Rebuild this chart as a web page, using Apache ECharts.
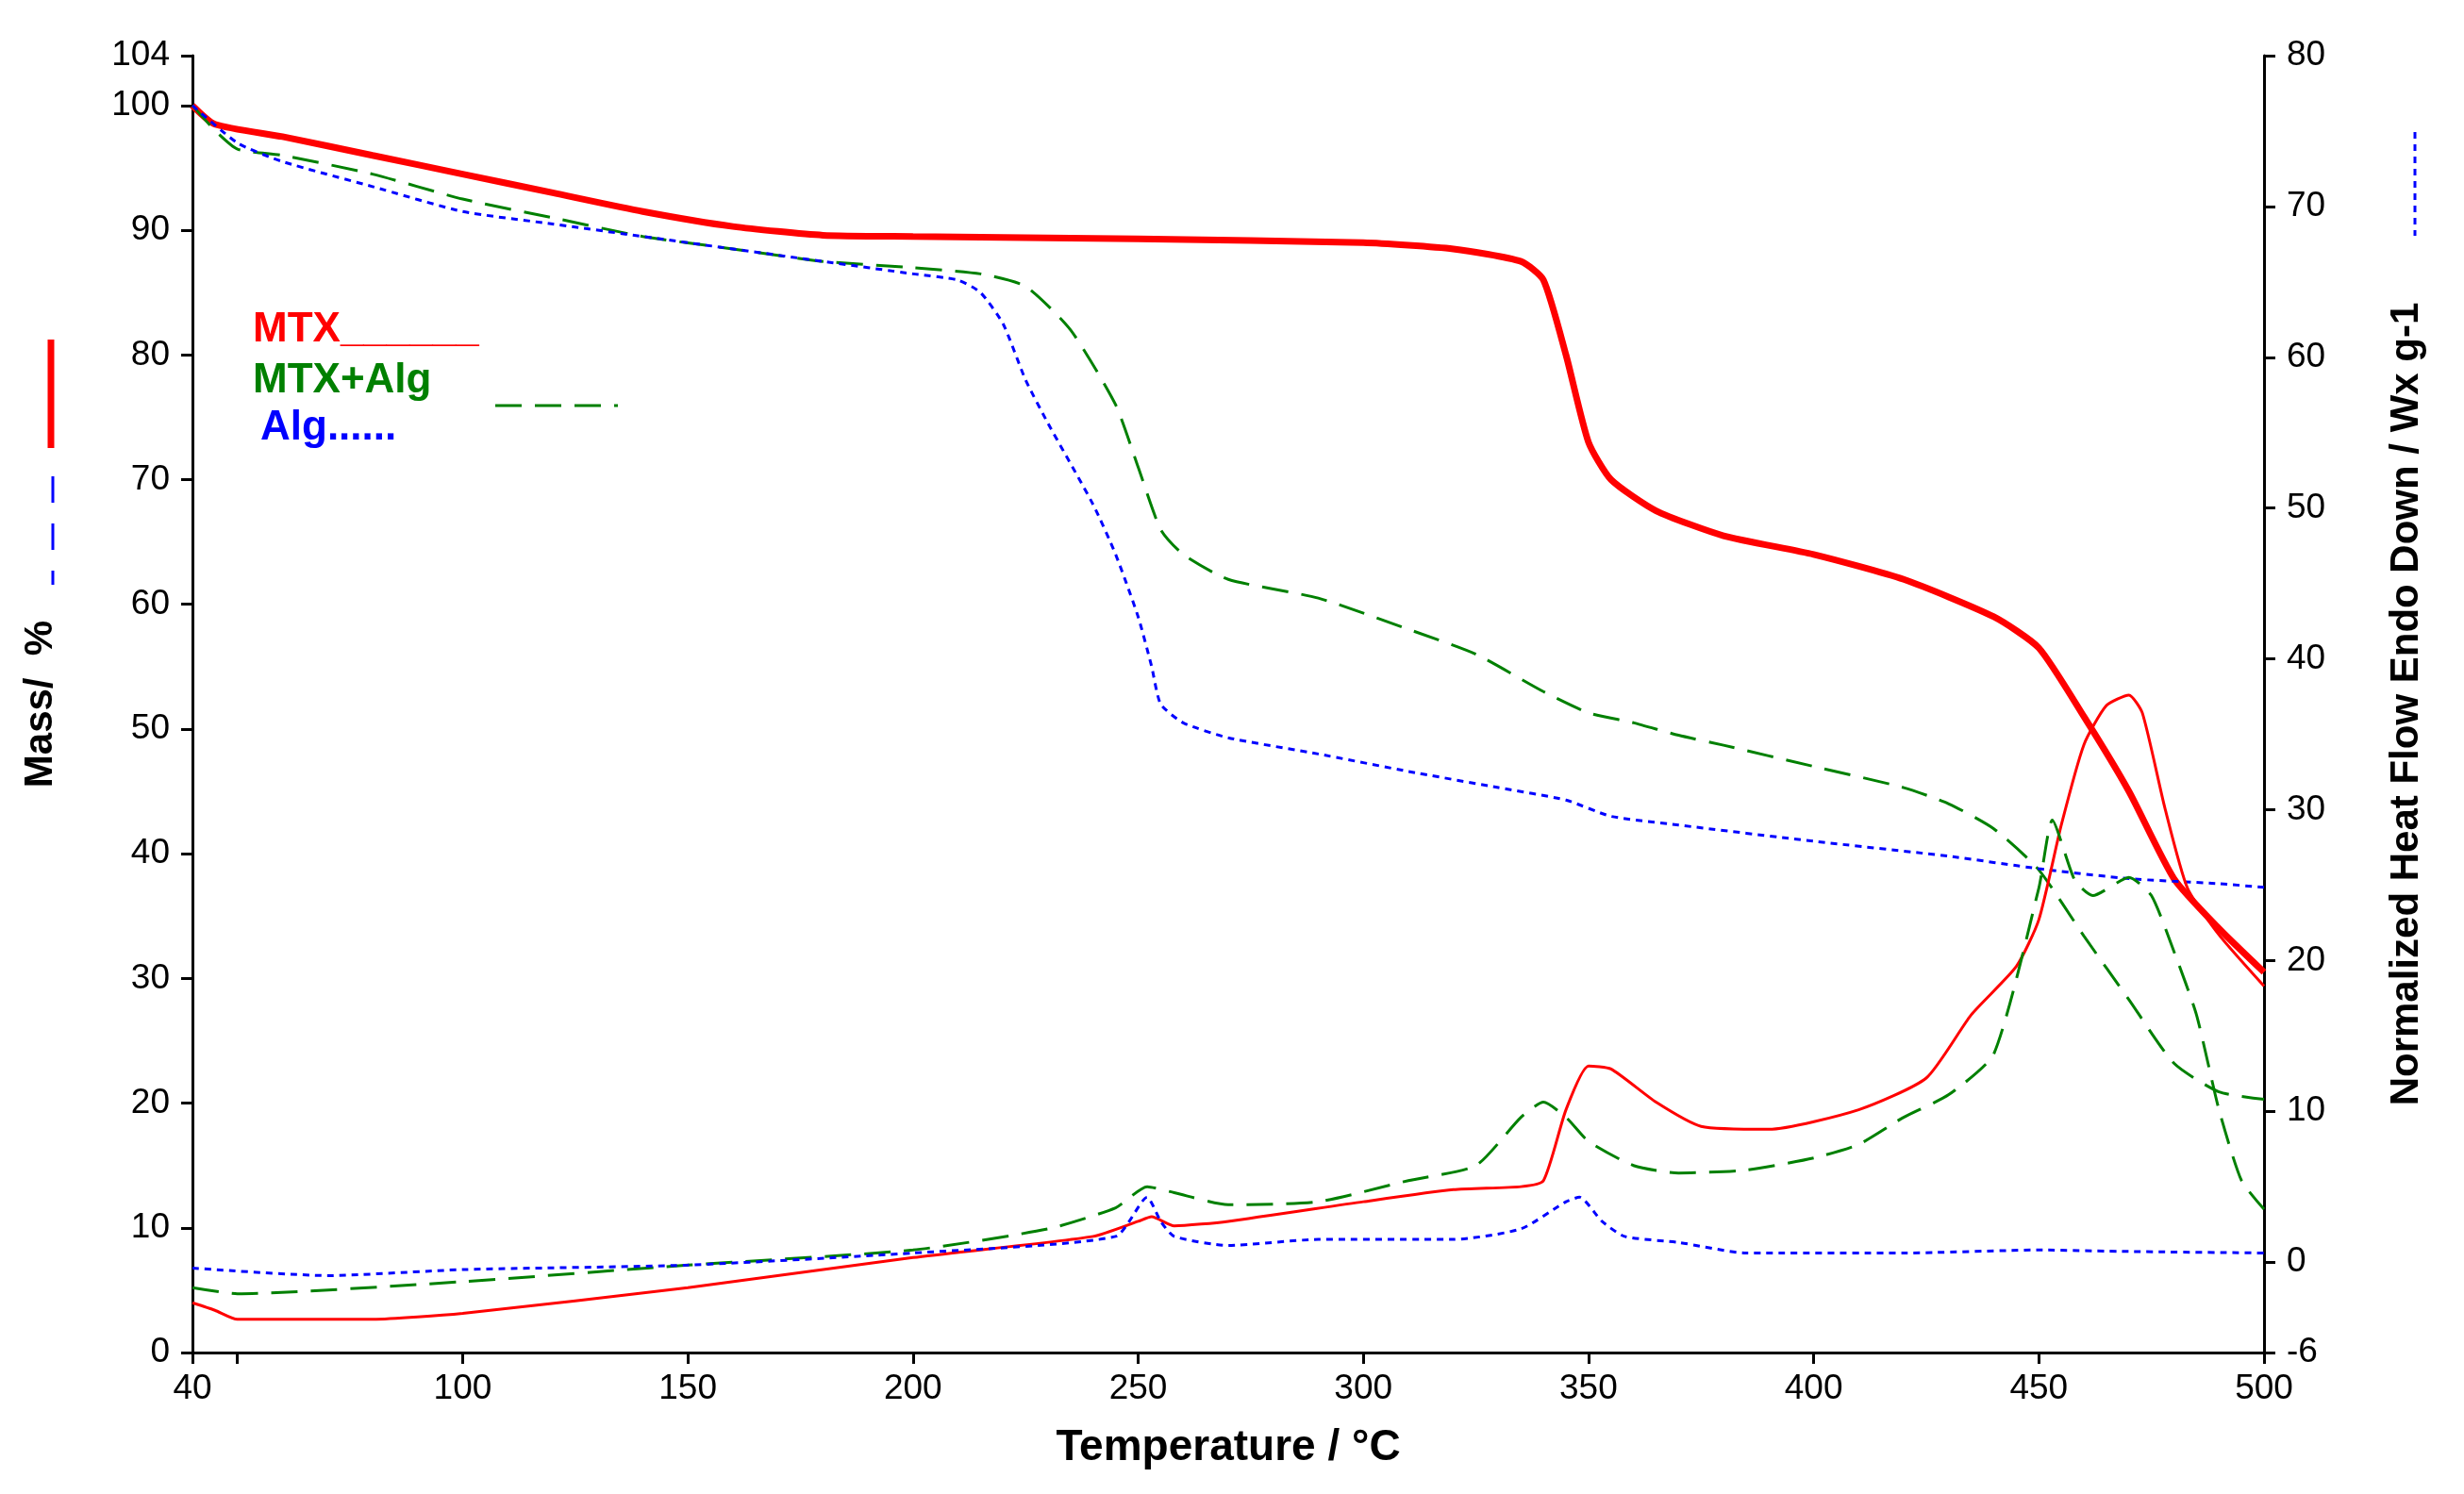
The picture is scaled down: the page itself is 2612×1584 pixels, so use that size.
<!DOCTYPE html><html><head><meta charset="utf-8"><script src="https://cdn.jsdelivr.net/npm/echarts@6/dist/echarts.min.js"></script>
<style>html,body{margin:0;padding:0;background:#fff}#c{width:2612px;height:1584px}</style></head><body><div id="c"></div><script>
const massMTX=[[40,100],[45,98.5],[60,97.5],[80,96],[100,94.5],[120,93],[140,91.5],[160,90.3],[180,89.6],[200,89.5],[250,89.3],[300,89],[320,88.5],[335,87.5],[340,86],[345,80],[350,73],[355,70],[365,67.5],[380,65.5],[400,64],[420,62],[440,59],[450,56.5],[460,51],[470,45],[480,38],[490,34],[500,30.5]];
const massMix=[[40,100],[45,98],[50,96.5],[60,96],[80,94.5],[100,92.5],[120,91],[140,89.5],[160,88.5],[180,87.5],[200,87],[215,86.5],[225,85.5],[235,82],[245,76],[250,71],[255,66],[260,64],[270,62],[290,60.5],[310,58],[325,56],[340,53],[350,51.3],[360,50.5],[370,49.5],[380,48.7],[400,47],[420,45.3],[430,44],[440,42],[450,38.7],[460,33.4],[470,28.3],[480,23.2],[490,20.9],[500,20.3]];
const massAlg=[[40,100],[50,97],[60,95.5],[80,93.5],[100,91.5],[120,90.5],[150,89],[180,87.5],[200,86.5],[210,86],[215,85],[220,82.5],[225,78],[230,74.5],[240,68],[245,64],[250,59],[253,55],[255,52],[260,50.5],[270,49.3],[290,48],[310,46.6],[330,45.3],[345,44.3],[355,43],[370,42.3],[400,41],[430,39.8],[450,38.8],[470,38],[490,37.6],[500,37.3]];
const hfMTX=[[40,-2.7],[45,-3.2],[50,-3.8],[80,-3.8],[100,-3.4],[150,-1.7],[200,0.3],[240,1.7],[250,2.7],[253,3.0],[258,2.4],[270,2.7],[300,4.0],[320,4.8],[335,5.0],[340,5.4],[345,10.1],[350,13.0],[355,12.8],[365,10.6],[375,9.0],[390,8.8],[410,10.1],[425,12.2],[435,16.4],[445,19.6],[450,22.7],[455,29.0],[460,34.3],[465,36.9],[470,37.6],[473,36.4],[478,30.1],[483,24.8],[490,21.7],[500,18.3]];
const hfMix=[[40,-1.7],[50,-2.1],[100,-1.3],[150,-0.2],[200,0.8],[230,2.2],[245,3.6],[252,5.0],[258,4.6],[270,3.8],[290,4.0],[310,5.4],[325,6.4],[335,9.6],[340,10.6],[345,9.6],[350,8.0],[360,6.4],[370,5.9],[385,6.1],[400,6.9],[410,7.8],[420,9.6],[430,11.1],[440,13.8],[450,24.8],[453,29.3],[458,25.3],[462,24.3],[470,25.5],[475,24.3],[480,20.6],[485,16.4],[490,10.1],[495,5.4],[500,3.5]];
const hfAlg=[[40,-0.4],[70,-0.9],[100,-0.5],[150,-0.2],[200,0.6],[245,1.7],[252,4.3],[255,2.7],[258,1.7],[270,1.1],[290,1.5],[320,1.5],[335,2.2],[345,4.0],[348,4.3],[353,2.7],[358,1.7],[370,1.3],[385,0.6],[420,0.6],[450,0.8],[470,0.7],[500,0.6]];
const xTicks=[40,50,100,150,200,250,300,350,400,450,500];
const xLabels=[40,100,150,200,250,300,350,400,450,500];
const yLeftTicks=[0,10,20,30,40,50,60,70,80,90,100,104];
const yRightTicks=[-6,0,10,20,30,40,50,60,70,80];
const F='Liberation Sans';
const ax={axisLine:{show:true,lineStyle:{color:'#000',width:3}},axisTick:{show:true,length:12,lineStyle:{color:'#000',width:3}},splitLine:{show:false},axisLabel:{color:'#000',fontSize:37,fontFamily:F,margin:24},nameTextStyle:{color:'#000',fontSize:42,fontWeight:'bold',fontFamily:F}};
function s(name,d,color,w,type,yi){return {name,type:'line',data:d,yAxisIndex:yi,showSymbol:false,smooth:0.2,lineStyle:{color,width:w,type},itemStyle:{color}};}
const chart=echarts.init(document.getElementById('c'));
chart.setOption({animation:false,
grid:{left:204,right:212,top:59,bottom:150},
xAxis:Object.assign({},ax,{type:'value',min:40,max:500,name:'Temperature / °C',nameLocation:'middle',nameGap:78,nameTextStyle:Object.assign({},ax.nameTextStyle,{fontSize:46}),axisTick:Object.assign({},ax.axisTick,{customValues:xTicks}),axisLabel:Object.assign({},ax.axisLabel,{customValues:xLabels,margin:20})}),
yAxis:[Object.assign({},ax,{type:'value',min:0,max:104,name:'Mass/  %',nameLocation:'middle',nameGap:140,axisTick:Object.assign({},ax.axisTick,{customValues:yLeftTicks}),axisLabel:Object.assign({},ax.axisLabel,{customValues:yLeftTicks})}),
Object.assign({},ax,{type:'value',min:-6,max:80,position:'right',name:'Normalized Heat Flow Endo Down / Wx g-1',nameLocation:'middle',nameGap:130,nameRotate:90,axisTick:Object.assign({},ax.axisTick,{customValues:yRightTicks}),axisLabel:Object.assign({},ax.axisLabel,{customValues:yRightTicks})})],
series:[s('MTX',massMTX,'#ff0000',7,'solid',0),s('MTX+Alg',massMix,'#008000',3,[28,14],0),s('Alg',massAlg,'#0000ff',3,[7,6],0),
s('MTX DSC',hfMTX,'#ff0000',3,'solid',1),s('MTX+Alg DSC',hfMix,'#008000',3,[28,14],1),s('Alg DSC',hfAlg,'#0000ff',3,[7,6],1)],
graphic:[
{type:'text',left:268,top:328,style:{text:'MTX______',fill:'#ff0000',font:'bold 44px "Liberation Sans"'}},
{type:'text',left:268,top:382,style:{text:'MTX+Alg',fill:'#008000',font:'bold 44px "Liberation Sans"'}},
{type:'line',shape:{x1:525,y1:430,x2:655,y2:430},style:{stroke:'#008000',lineWidth:3,lineDash:[28,14]}},
{type:'text',left:276,top:432,style:{text:'Alg......',fill:'#0000ff',font:'bold 44px "Liberation Sans"'}},
{type:'line',shape:{x1:54,y1:360,x2:54,y2:475},style:{stroke:'#ff0000',lineWidth:7}},
{type:'line',shape:{x1:56,y1:505,x2:56,y2:620},style:{stroke:'#0000ff',lineWidth:3,lineDash:[28,22]}},
{type:'line',shape:{x1:2560,y1:140,x2:2560,y2:250},style:{stroke:'#0000ff',lineWidth:3,lineDash:[7,6]}}
]});
</script></body></html>
